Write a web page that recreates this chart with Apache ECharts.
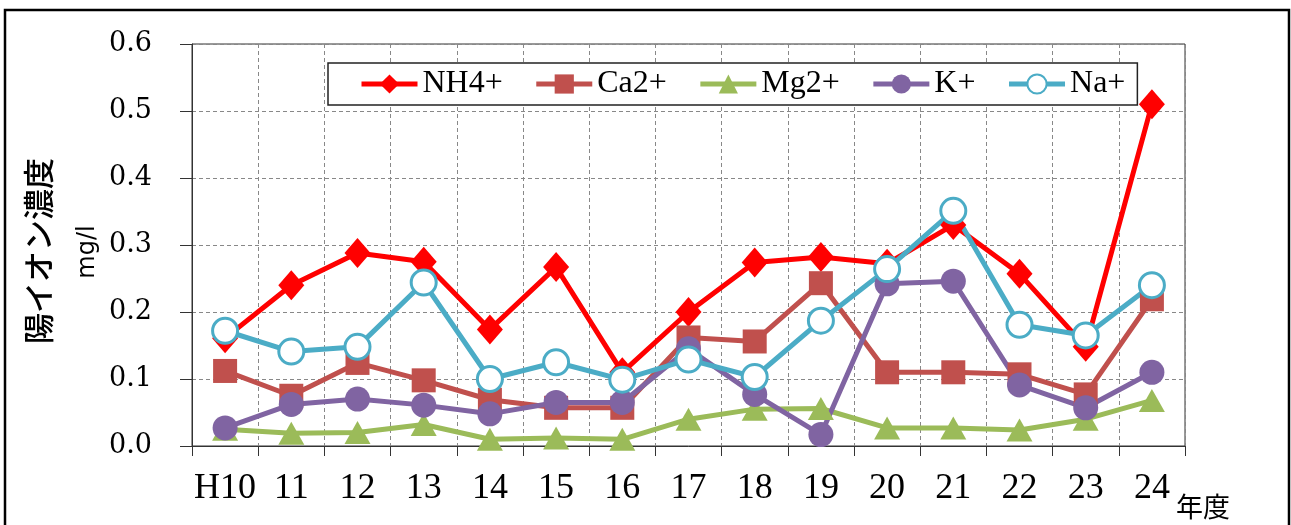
<!DOCTYPE html>
<html>
<head>
<meta charset="utf-8">
<script src="https://cdn.jsdelivr.net/npm/echarts@6/dist/echarts.min.js"></script>
<style>
html,body{margin:0;padding:0;background:#fff;}
#chart{width:1291px;height:525px;}
</style>
</head>
<body>
<div id="chart"></div>
<script>
var categories = ['H10','11','12','13','14','15','16','17','18','19','20','21','22','23','24'];
var yTicks = [0.0, 0.1, 0.2, 0.3, 0.4, 0.5, 0.6];
var seriesNames = ['NH4+','Ca2+','Mg2+','K+','Na+'];
var nh4 = [0.161,0.240,0.288,0.275,0.174,0.267,0.110,0.200,0.274,0.282,0.272,0.330,0.257,0.148,0.510];
var ca  = [0.112,0.075,0.124,0.098,0.069,0.057,0.057,0.162,0.156,0.243,0.110,0.110,0.107,0.077,0.219];
var mg  = [0.025,0.019,0.020,0.032,0.010,0.012,0.010,0.040,0.055,0.056,0.027,0.027,0.024,0.040,0.068];
var kk  = [0.027,0.062,0.070,0.061,0.048,0.065,0.065,0.145,0.077,0.017,0.242,0.246,0.091,0.057,0.110];
var na  = [0.172,0.141,0.148,0.244,0.100,0.125,0.099,0.129,0.103,0.187,0.264,0.351,0.181,0.165,0.240];

var chart = echarts.init(document.getElementById('chart'), null, {renderer:'canvas'});
var colors = ['#FF0000','#C0504D','#9BBB59','#8064A2','#4BACC6'];

function lineSeries(name, data, color, symbol, size, extra) {
  var s = {
    name: name, type: 'line', data: data,
    symbol: symbol, symbolSize: size,
    lineStyle: {color: color, width: 5},
    itemStyle: {color: color},
    emphasis: {disabled: true},
    animation: false
  };
  if (extra) { for (var k in extra) s[k] = extra[k]; }
  return s;
}

var option = {
  animation: false,
  backgroundColor: '#fff',
  grid: {left: 192, right: 106, top: 44, bottom: 79, show: true, borderColor: '#333', borderWidth: 1, backgroundColor: 'transparent'},
  legend: {
    data: seriesNames,
    left: 328, top: 63,
    padding: [5, 12, 5, 31],
    itemGap: 31,
    itemWidth: 56, itemHeight: 24,
    borderColor: '#222', borderWidth: 1.5,
    backgroundColor: '#fff',
    lineStyle: {width: 5},
    textStyle: {fontFamily: 'Liberation Serif', fontSize: 32, color: '#000', lineHeight: 32}
  },
  xAxis: {
    type: 'category', data: categories, boundaryGap: true,
    axisLine: {lineStyle: {color: '#333', width: 1}},
    axisTick: {show: true, length: 10, lineStyle: {color: '#333'}},
    axisLabel: {fontFamily: 'Liberation Serif', fontSize: 36, color: '#000', margin: 25, interval: 0},
    splitLine: {show: true, interval: 0, lineStyle: {color: '#888', type: [4,3], width: 1}}
  },
  yAxis: {
    type: 'value', min: 0, max: 0.6, interval: 0.1,
    axisLine: {show: true, lineStyle: {color: '#333', width: 1}},
    axisTick: {show: true, length: 12, inside: false, lineStyle: {color: '#333'}},
    axisLabel: {fontFamily: 'DejaVu Serif', fontSize: 27, color: '#000', margin: 40,
      formatter: function (v) { return v.toFixed(1); }},
    splitLine: {show: true, lineStyle: {color: '#888', type: [4,3], width: 1}}
  },
  graphic: [
    {type: 'rect', shape: {x: 5, y: 10, width: 1284, height: 540}, style: {fill: 'none', stroke: '#000', lineWidth: 2.5}, silent: true, z: 100},
    {type: 'text', x: 38, y: 251, rotation: Math.PI/2,
      style: {text: '陽イオン濃度', font: '500 31px "Noto Sans CJK JP"', fill: '#000', textAlign: 'center', textVerticalAlign: 'middle'}},
    {type: 'text', x: 88, y: 252, rotation: Math.PI/2,
      style: {text: 'mg/l', font: '24px "DejaVu Sans"', fill: '#000', textAlign: 'center', textVerticalAlign: 'middle'}},
    {type: 'text', x: 1176, y: 507,
      style: {text: '年度', font: '27px "Noto Sans CJK JP"', fill: '#000', textAlign: 'left', textVerticalAlign: 'middle'}}
  ],
  series: [
    lineSeries('NH4+', nh4, colors[0], 'diamond', [26, 30]),
    lineSeries('Ca2+', ca, colors[1], 'rect', 24),
    lineSeries('Mg2+', mg, colors[2], 'triangle', [26, 23]),
    lineSeries('K+', kk, colors[3], 'circle', 25),
    lineSeries('Na+', na, colors[4], 'circle', 25, {itemStyle: {color: '#fff', borderColor: colors[4], borderWidth: 3}})
  ]
};
chart.setOption(option);
</script>
</body>
</html>
